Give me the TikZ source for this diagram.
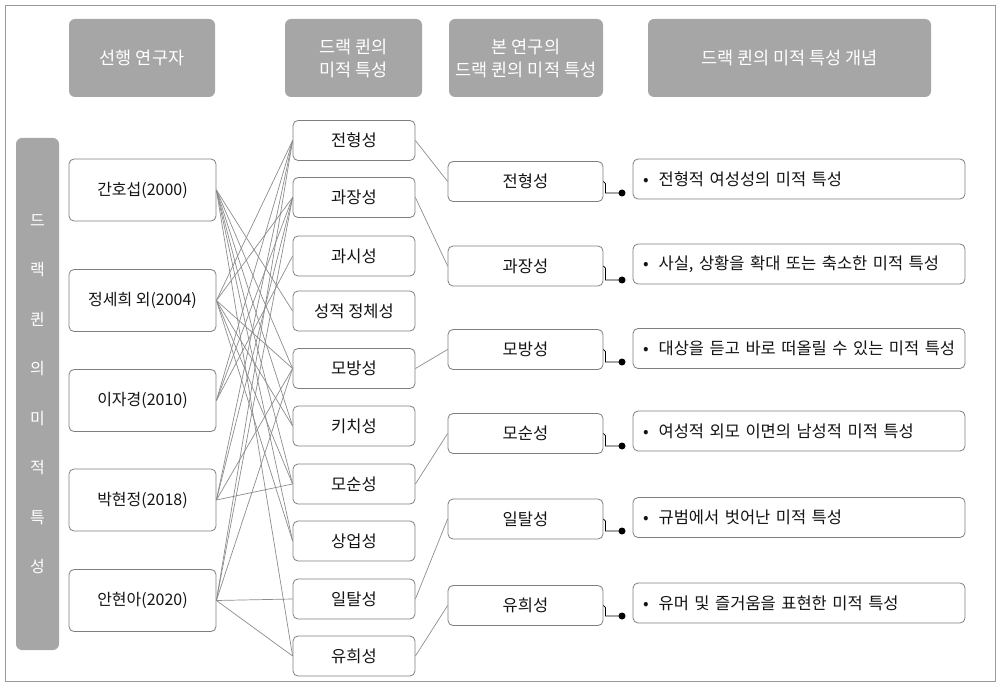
\documentclass[tikz,border=0pt]{standalone}
\usepackage{fontspec}
\setmainfont{Noto Sans CJK KR}
\definecolor{hdrgray}{HTML}{A6A6A6}
\definecolor{boxgray}{HTML}{7F7F7F}
\definecolor{lnkgray}{HTML}{8C8C8C}
\definecolor{framegray}{HTML}{9A9A9A}
\definecolor{txt}{HTML}{141414}
\begin{document}
\begin{tikzpicture}[x=1pt,y=-1pt,
  hdr/.style={fill=hdrgray, rounded corners=6pt, text=white, font=\fontsize{17.5}{23}\selectfont, align=center, inner sep=0pt},
  bx/.style={draw=boxgray, line width=0.8pt, rounded corners=5pt, fill=white, inner sep=0pt, font=\fontsize{16.5}{18}\selectfont, text=txt},
  lnk/.style={draw=lnkgray, line width=0.7pt},
  dotn/.style={circle, fill=black, inner sep=0pt, minimum size=7pt},
  conn/.style={draw=black, line width=0.8pt}]
\useasboundingbox (0,0) rectangle (1000,684);
\draw[framegray, line width=0.8pt] (5,5) rectangle (995,681);

% headers
\node[hdr, minimum width=146pt, minimum height=78pt] (h1) at (142,58) {선행 연구자};
\node[hdr, minimum width=137pt, minimum height=78pt] (h2) at (353.5,58) {드랙 퀸의\\미적 특성};
\node[hdr, minimum width=154pt, minimum height=78pt] (h3) at (526,58) {본 연구의\\드랙 퀸의 미적 특성};
\node[hdr, minimum width=283pt, minimum height=78pt] (h4) at (789.5,58) {드랙 퀸의 미적 특성 개념};

% left bar
\node[hdr, minimum width=43pt, minimum height=512pt, font=\fontsize{16}{49.5}\selectfont] (bar) at (37.5,394) {드\\랙\\퀸\\의\\미\\적\\특\\성};

% column 1
\foreach \n/\y/\t in {a1/190/간호섭(2000), a2/300.5/정세희 외(2004), a3/400.5/이자경(2010), a4/500/박현정(2018), a5/600.5/안현아(2020)}
  \node[bx, minimum width=147pt, minimum height=62pt, font=\fontsize{16}{18}\selectfont] (\n) at (142.5,\y) {\t};

% column 2
\foreach \n/\y/\t in {b1/140.5/전형성, b2/197.5/과장성, b3/256/과시성, b4/311/성적 정체성, b5/368.5/모방성, b6/426/키치성, b7/484/모순성, b8/541/상업성, b9/599/일탈성, b10/656/유희성}
  \node[bx, minimum width=122pt, minimum height=40pt] (\n) at (354,\y) {\t};

% column 3
\foreach \n/\y/\t in {c1/181.5/전형성, c2/266/과장성, c3/349.5/모방성, c4/433.5/모순성, c5/519/일탈성, c6/605.5/유희성}
  \node[bx, minimum width=155pt, minimum height=40pt] (\n) at (525.5,\y) {\t};

% column 4
\foreach \n/\y/\t in {e1/179/전형적 여성성의 미적 특성, e2/264/{사실, 상황을 확대 또는 축소한 미적 특성}, e3/348.5/대상을 듣고 바로 떠올릴 수 있는 미적 특성, e4/431/여성적 외모 이면의 남성적 미적 특성, e5/517.5/규범에서 벗어난 미적 특성, e6/603/유머 및 즐거움을 표현한 미적 특성}
  \node[bx, minimum width=332pt, minimum height=40pt, text width=322pt, align=left] (\n) at (799,\y) {\mbox{\hspace*{5pt}•\hspace{10pt}\t}};

% links column 1 -> column 2
\foreach \a/\b in {a1/b4, a1/b5, a1/b6, a1/b7, a1/b8, a1/b10,
                   a2/b1, a2/b2, a2/b5, a2/b6, a2/b7, a2/b8,
                   a3/b1, a3/b2, a3/b3,
                   a4/b1, a4/b2, a4/b5, a4/b7,
                   a5/b1, a5/b2, a5/b5, a5/b9, a5/b10}
  \draw[lnk] (\a.east) -- (\b.west);

% links column 2 -> column 3
\foreach \a/\b in {b1/c1, b2/c2, b5/c3, b7/c4, b9/c5, b10/c6}
  \draw[lnk] (\a.east) -- (\b.west);

% connectors column 3 -> column 4
\foreach \c/\d/\y in {c1/d1/193, c2/d2/280, c3/d3/362, c4/d4/446, c5/d5/531, c6/d6/616}{
  \node[dotn] (\d) at (622,\y) {};
  \draw[conn] (\c.east) -- ++(2,2) |- (\d.center);
}
\end{tikzpicture}
\end{document}
